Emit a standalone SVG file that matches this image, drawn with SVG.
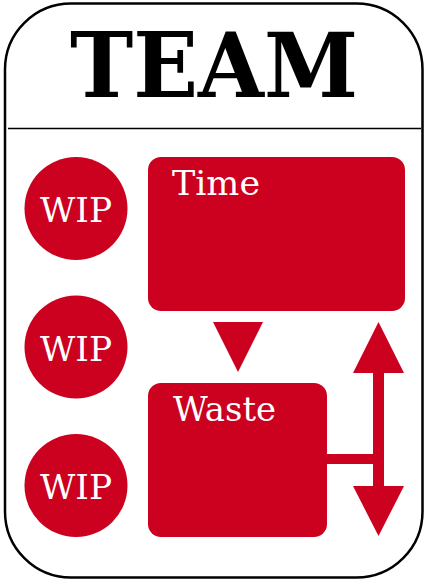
<svg xmlns="http://www.w3.org/2000/svg" width="427" height="581" viewBox="0 0 427 581">
<style>
.red{fill:#cc001f}
.lbl{font-family:"DejaVu Serif","Liberation Serif",serif;fill:#fff}
.title{font-family:"DejaVu Serif","Liberation Serif",serif;font-weight:bold;fill:#000}
</style>
<rect x="0" y="0" width="427" height="581" fill="#fff"/>
<g id="frame">
<rect x="5" y="3.5" width="417.5" height="574" rx="66" ry="66" fill="#fff" stroke="#000" stroke-width="2.5"/>
<line x1="8" y1="128.5" x2="421" y2="128.5" stroke="#000" stroke-width="1.3"/>
<text class="title" x="214" y="97" font-size="89" text-anchor="middle" textLength="288" lengthAdjust="spacingAndGlyphs">TEAM</text>
</g>
<g id="wip1"><circle class="red" cx="76" cy="208.5" r="51.5"/><text class="lbl" x="76" y="222" font-size="34" text-anchor="middle" textLength="72" lengthAdjust="spacingAndGlyphs">WIP</text></g>
<g id="wip2"><circle class="red" cx="76" cy="347" r="51.5"/><text class="lbl" x="76" y="360.5" font-size="34" text-anchor="middle" textLength="72" lengthAdjust="spacingAndGlyphs">WIP</text></g>
<g id="wip3"><circle class="red" cx="76" cy="485.5" r="51.5"/><text class="lbl" x="76" y="499" font-size="34" text-anchor="middle" textLength="72" lengthAdjust="spacingAndGlyphs">WIP</text></g>
<g id="time"><rect class="red" x="148" y="157" width="257" height="154" rx="13"/><text class="lbl" x="172" y="195" font-size="33" textLength="88" lengthAdjust="spacingAndGlyphs">Time</text></g>
<g id="waste"><rect class="red" x="148" y="383" width="179" height="154" rx="13"/><text class="lbl" x="173" y="421" font-size="33" textLength="103" lengthAdjust="spacingAndGlyphs">Waste</text></g>
<g id="connectors">
<polygon class="red" points="213,322 263,322 238,372"/>
<rect class="red" x="326" y="454" width="53" height="10"/>
<rect class="red" x="373" y="372" width="11" height="115"/>
<polygon class="red" points="378.5,322 404,373 353,373"/>
<polygon class="red" points="353,486 404,486 378.5,536"/>
</g>
</svg>
